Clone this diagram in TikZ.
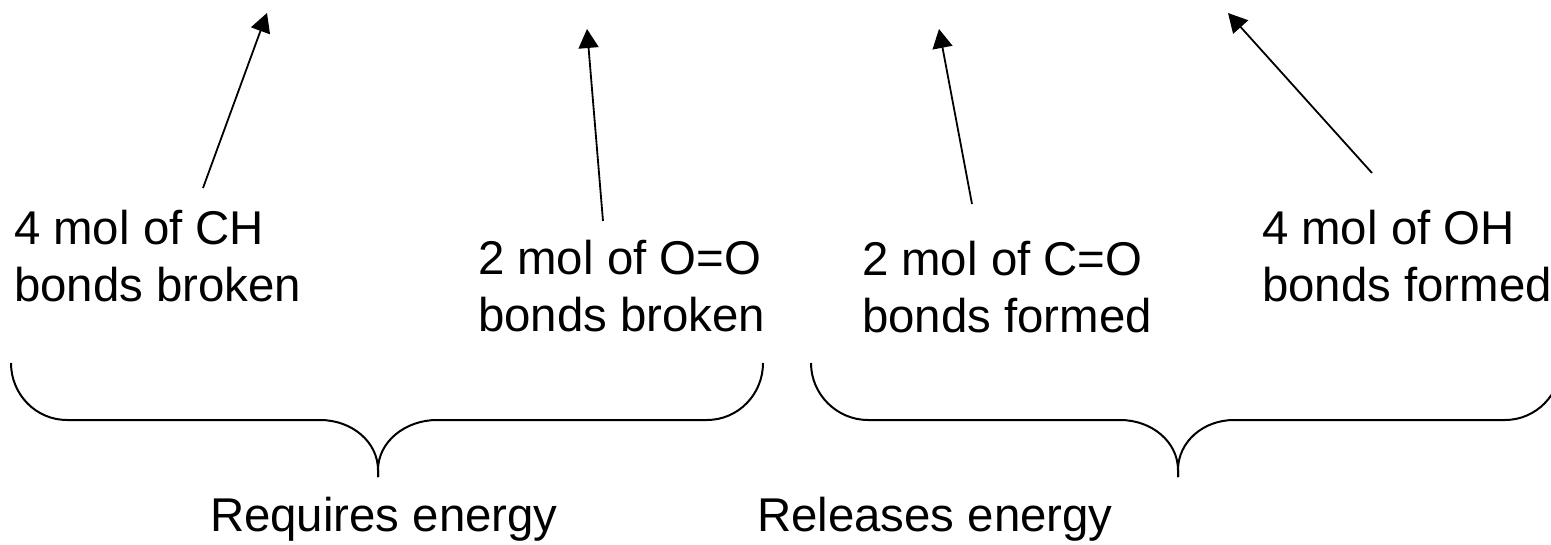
\documentclass[tikz,border=0pt]{standalone}
\usepackage{fontspec}
\setmainfont{Liberation Sans}
\usetikzlibrary{arrows.meta}
\begin{document}
\begin{tikzpicture}[x=1pt,y=-1pt,
  pointer/.style={line width=1.8pt,-{Triangle[length=19pt,width=20pt]}},
  brace/.style={line width=2pt},
  label/.style={anchor=base west,inner sep=0pt,outer sep=0pt,
    font=\fontsize{47.4}{57}\selectfont,align=left},
  summary/.style={anchor=base west,inner sep=0pt,outer sep=0pt,
    font=\fontsize{47.4}{57}\selectfont}]
\useasboundingbox (0,0) rectangle (1551,545);
\clip (0,0) rectangle (1551,545);

% bond labels (anchored at the baseline of their second line)
\node[label] (ch) at (14,302) {4 mol of CH\\bonds broken};
\node[label] (oo) at (478,332) {2 mol of O=O\\bonds broken};
\node[label] (co) at (862,333) {2 mol of C=O\\bonds formed};
\node[label] (oh) at (1262,302) {4 mol of OH\\bonds formed};

% arrow ends
\coordinate (chs) at (203,188);  \coordinate (cht) at (267,13);
\coordinate (oos) at (603,221);  \coordinate (oot) at (587,29);
\coordinate (cos) at (972,204);  \coordinate (cot) at (939,29);
\coordinate (ohs) at (1372,173); \coordinate (oht) at (1228,13);

\draw[pointer] (chs) -- (cht);
\draw[pointer] (oos) -- (oot);
\draw[pointer] (cos) -- (cot);
\draw[pointer] (ohs) -- (oht);

% brace under the broken bonds
\coordinate (b1tip) at (378,477);
\draw[brace] (11,363) .. controls (11,394.5) and (36,420) .. (67,420)
  -- (320,420) .. controls (352,420) and (378,442) .. (378,470) -- (b1tip);
\draw[brace] (b1tip) -- (378,470) .. controls (378,442) and (405,420) .. (437,420)
  -- (707,420) .. controls (738,420) and (763,394.5) .. (763,363);

% brace under the formed bonds
\coordinate (b2tip) at (1178,477);
\draw[brace] (811,363) .. controls (811,394.5) and (837,420) .. (868,420)
  -- (1120,420) .. controls (1152,420) and (1178,442) .. (1178,470) -- (b2tip);
\draw[brace] (b2tip) -- (1178,470) .. controls (1178,442) and (1203,420) .. (1234,420)
  -- (1505,420) .. controls (1536,420) and (1561,394.5) .. (1561,363);

% summaries
\node[summary] (req) at (210,531) {Requires energy};
\node[summary] (rel) at (757,531) {Releases energy};
\end{tikzpicture}
\end{document}
